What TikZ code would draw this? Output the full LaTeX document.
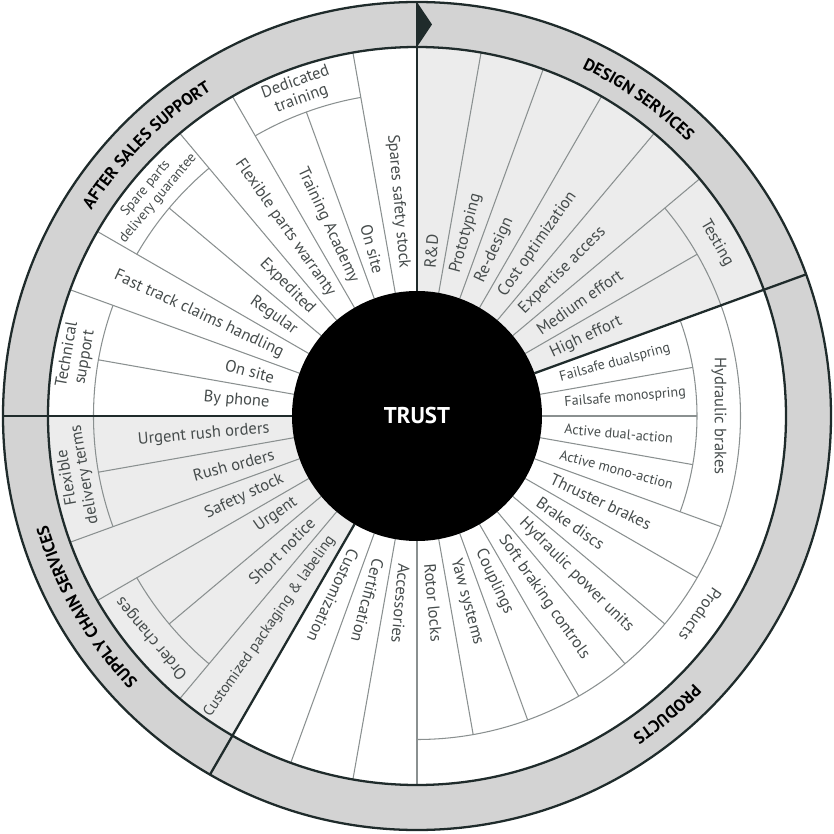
\documentclass[tikz,border=0pt]{standalone}
\usepackage{fontspec}
\setmainfont{PT Sans}
\usetikzlibrary{decorations.text}
\definecolor{ringgray}{HTML}{D3D3D3}
\definecolor{secgray}{HTML}{ECECEC}
\definecolor{darkline}{HTML}{1F2B2B}
\definecolor{thinline}{HTML}{8A9090}
\definecolor{lbltext}{HTML}{464C4C}
\newcommand{\ringfont}{\fontsize{9.6}{11}\selectfont\bfseries}
\newcommand{\lblfont}{\fontsize{9.4}{10.2}\selectfont}
\newcommand{\midfont}{\fontsize{8.6}{9.6}\selectfont}
\newcommand{\smallfont}{\fontsize{8}{9}\selectfont}
\begin{document}
\begin{tikzpicture}[x=1cm,y=1cm,
	thinln/.style={draw=thinline,line width=0.6pt},
	thickln/.style={draw=darkline,line width=1.3pt},
	lbl/.style={text=lbltext,font=\lblfont,inner sep=1pt},
	smalllbl/.style={lbl,font=\smallfont},
	tanlbl/.style={lbl,align=center}]
	\def\ri{2.5}   % schwarze Scheibe
	\def\rt{2.92}  % Beginn der Texte
	\def\rh{5.6}   % Bogen Hydraulic brakes
	\def\ra{6.47}  % aeussere Boegen
	\def\rm{7.38}  % grauer Ring innen
	\def\ro{8.28}  % Rand
	\def\rb{7.70}  % Grundlinie der Ringtitel
	\useasboundingbox (-8.34,-8.36) rectangle (8.34,8.32);
	% Flaechen
	\fill[ringgray,even odd rule] (0,0) circle(\ro) (0,0) circle(\rm);
	\fill[secgray] (0,0) -- (20:\rm) arc[start angle=20,end angle=90,radius=\rm] -- cycle;
	\fill[secgray] (0,0) -- (180:\rm) arc[start angle=180,end angle=240,radius=\rm] -- cycle;
	% duenne Linien bis zum Ring
	\foreach \w in {80,70,60,50,40,-90,-100,-110,100,120,130,150,160,200,210,230}
		\draw[thinln] (\w:\ri) -- (\w:\rm);
	% duenne Linien bis zu den Boegen
	\foreach \w in {30,-20,-30,-40,-50,-60,-70,-80,110,140,170,190,220}
		\draw[thinln] (\w:\ri) -- (\w:\ra);
	\foreach \w in {10,0,-10}
		\draw[thinln] (\w:\ri) -- (\w:\rh);
	% Boegen
	\foreach \a/\b in {20/40,-90/20,100/120,130/150,160/180,180/200,210/230}
		\draw[thinln] (\a:\ra) arc[start angle=\a,end angle=\b,radius=\ra];
	\draw[thinln] (-20:\rh) arc[start angle=-20,end angle=20,radius=\rh];
	% Grenzen der Bereiche
	\foreach \w in {20,90,180,240}
		\draw[thickln] (\w:\ri) -- (\w:\ro);
	\draw[thickln] (0,0) circle(\rm) (0,0) circle(\ro);
	\fill[darkline] (0,\rm) -- (0.3,7.83) -- (0,\ro) -- cycle;
	% Mitte
	\fill[black] (0,0) circle(\ri);
	\node[text=white,font=\fontsize{13}{15}\selectfont\bfseries] (trust) at (0,0) {TRUST};
	% Ringtitel
	\foreach \m/\t in {55/DESIGN SERVICES,135/AFTER SALES SUPPORT,210/SUPPLY CHAIN SERVICES,-50/PRODUCTS}
		\path[decorate,decoration={text along path,text align=center,
			text={|\ringfont|\t}}] (\m+30:\rb) arc[start angle=\m+30,end angle=\m-30,radius=\rb];
	% Texte nach aussen
	\foreach \w/\t in {85/R\&D,75/Prototyping,65/Re-design,55/Cost optimization,45/Expertise access,
		35/Medium effort,25/High effort,-25/Thruster brakes,-35/Brake discs,-45/Hydraulic power units,
		-55/Soft braking controls,-65/Couplings,-75/Yaw systems,-85/Rotor locks,-95/Accessories,
		-105/Certification,-115/Customization}
		\node[lbl,rotate=\w,anchor=west] (out\w) at (\w:\rt) {\t};
	\foreach \w/\t in {15/Failsafe dualspring,5/Failsafe monospring,-5/Active dual-action,-15/Active mono-action}
		\node[smalllbl,rotate=\w,anchor=west] (brk\w) at (\w:\rt) {\t};
	% Texte nach innen
	\foreach \w/\t in {95/Spares safety stock,105/On site,115/Training Academy,125/Flexible parts warranty,
		135/Expedited,145/Regular,155/Fast track claims handling,165/On site,175/By phone,
		185/Urgent rush orders,195/Rush orders,205/Safety stock,215/Urgent,225/Short notice}
		\node[lbl,rotate=\w+180,anchor=east] (in\w) at (\w:\rt) {\t};
	\node[lbl,font=\midfont,rotate=55,anchor=east] (in235) at (235:\rt) {Customized packaging \& labeling};
	% Texte quer
	\foreach \w/\r/\t in {30/6.92/Testing,0/6.04/Hydraulic brakes,-35/6.92/Products,110/6.92/Dedicated\\training,
		170/6.92/Technical\\support,190/6.92/Flexible\\delivery terms,220/6.92/Order changes}
		\node[tanlbl,rotate=\w-90] (tan\w) at (\w:\r) {\t};
	\node[tanlbl,font=\smallfont,rotate=50] (spare) at (140:6.92) {Spare parts\\delivery guarantee};
\end{tikzpicture}
\end{document}
